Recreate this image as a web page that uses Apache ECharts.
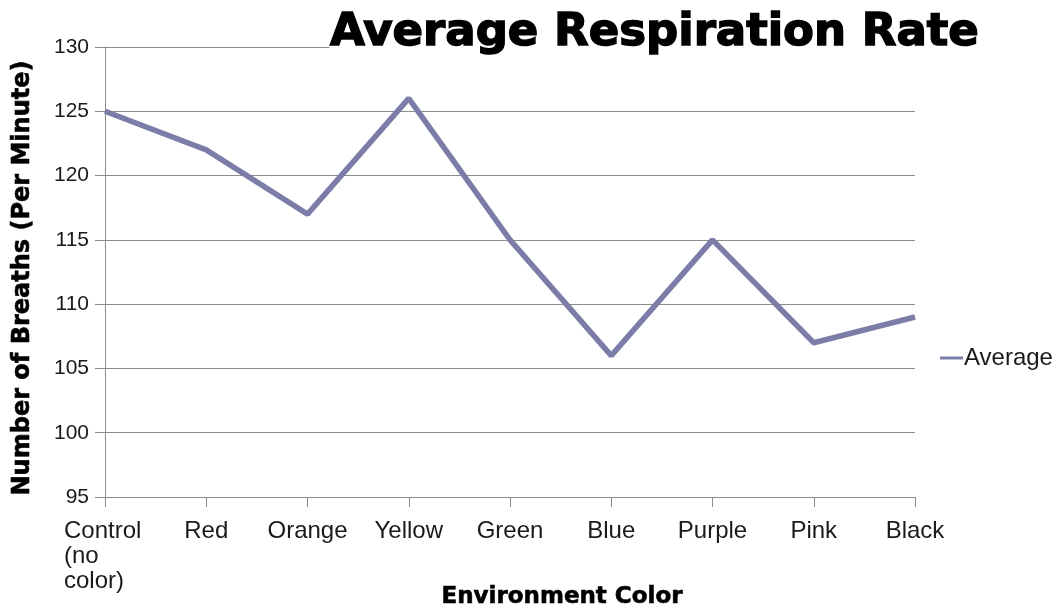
<!DOCTYPE html>
<html>
<head>
<meta charset="utf-8">
<script src="https://cdn.jsdelivr.net/npm/echarts@6/dist/echarts.min.js"></script>
<style>
  html, body { margin: 0; padding: 0; background: #fff; }
  #chart { width: 1060px; height: 609px; }
</style>
</head>
<body>
<div id="chart"></div>
<script>
// Environment colours on the x axis
const categories = ['Control (no color)', 'Red', 'Orange', 'Yellow', 'Green', 'Blue', 'Purple', 'Pink', 'Black'];
// Average breaths per minute for each environment
const averageRate = [125, 122, 117, 126, 115, 106, 115, 107, 109];
// Value axis range
const yMin = 95;
const yMax = 130;
const yStep = 5;

const chart = echarts.init(document.getElementById('chart'), null, { renderer: 'canvas' });

const labelFont = 'Liberation Sans';
const heavyFont = 'DejaVu Sans';
const lineColor = '#7b7da8';

chart.setOption({
  backgroundColor: '#ffffff',
  animation: false,
  title: {
    text: 'Average Respiration Rate',
    left: 330,
    top: 11,
    padding: 0,
    backgroundColor: '#ffffff',
    textStyle: {
      fontFamily: heavyFont,
      fontWeight: 'bold',
      fontSize: 45,
      color: '#000000',
      textBorderColor: '#000000',
      textBorderWidth: 1.5
    }
  },
  legend: {
    data: ['Average'],
    left: 935,
    top: 341,
    icon: 'rect',
    itemWidth: 23,
    itemHeight: 3,
    itemGap: 0,
    textStyle: {
      fontFamily: labelFont,
      fontSize: 24,
      color: '#1a1a1a',
      padding: [0, 0, 0, -4]
    }
  },
  grid: {
    left: 105,
    right: 145,
    top: 47,
    bottom: 112,
    containLabel: false,
    outerBoundsMode: 'none'
  },
  xAxis: {
    type: 'category',
    data: categories,
    boundaryGap: false,
    name: 'Environment Color',
    nameLocation: 'middle',
    nameGap: 89,
    nameMoveOverlap: false,
    nameTextStyle: {
      fontFamily: heavyFont,
      fontWeight: 'bold',
      fontSize: 23,
      color: '#000000',
      textBorderColor: '#000000',
      textBorderWidth: 0.6,
      padding: [0, 0, 0, 104]
    },
    axisLine: { lineStyle: { color: '#8c8c8c', width: 1 } },
    axisTick: { show: true, length: 10, inside: false, alignWithLabel: true, lineStyle: { color: '#8c8c8c' } },
    splitLine: { show: false },
    axisLabel: {
      interval: 0,
      margin: 22,
      fontFamily: labelFont,
      fontSize: 24,
      color: '#1a1a1a',
      lineHeight: 25,
      formatter: function (value) {
        if (value === 'Control (no color)') {
          return '{c|Control}\n{c|(no}\n{c|color)}';
        }
        return value;
      },
      rich: {
        c: {
          width: 82,
          align: 'left',
          fontFamily: labelFont,
          fontSize: 24,
          lineHeight: 25,
          color: '#1a1a1a'
        }
      }
    }
  },
  yAxis: {
    type: 'value',
    min: yMin,
    max: yMax,
    interval: yStep,
    name: 'Number of Breaths (Per Minute)',
    nameLocation: 'middle',
    nameGap: 70,
    nameMoveOverlap: false,
    nameTextStyle: {
      fontFamily: heavyFont,
      fontWeight: 'bold',
      fontSize: 24,
      color: '#000000',
      textBorderColor: '#000000',
      textBorderWidth: 0.6,
      padding: [0, 12, 0, 0]
    },
    axisLine: { show: true, lineStyle: { color: '#8c8c8c', width: 1 } },
    axisTick: { show: true, length: 10, inside: false, lineStyle: { color: '#8c8c8c' } },
    splitLine: { show: true, lineStyle: { color: '#8c8c8c', width: 1 } },
    axisLabel: {
      margin: 16,
      fontFamily: labelFont,
      fontSize: 21,
      color: '#1a1a1a'
    }
  },
  series: [{
    name: 'Average',
    type: 'line',
    data: averageRate,
    showSymbol: false,
    symbol: 'none',
    color: lineColor,
    lineStyle: { color: lineColor, width: 5.5 },
    itemStyle: { color: lineColor }
  }]
});
</script>
</body>
</html>
